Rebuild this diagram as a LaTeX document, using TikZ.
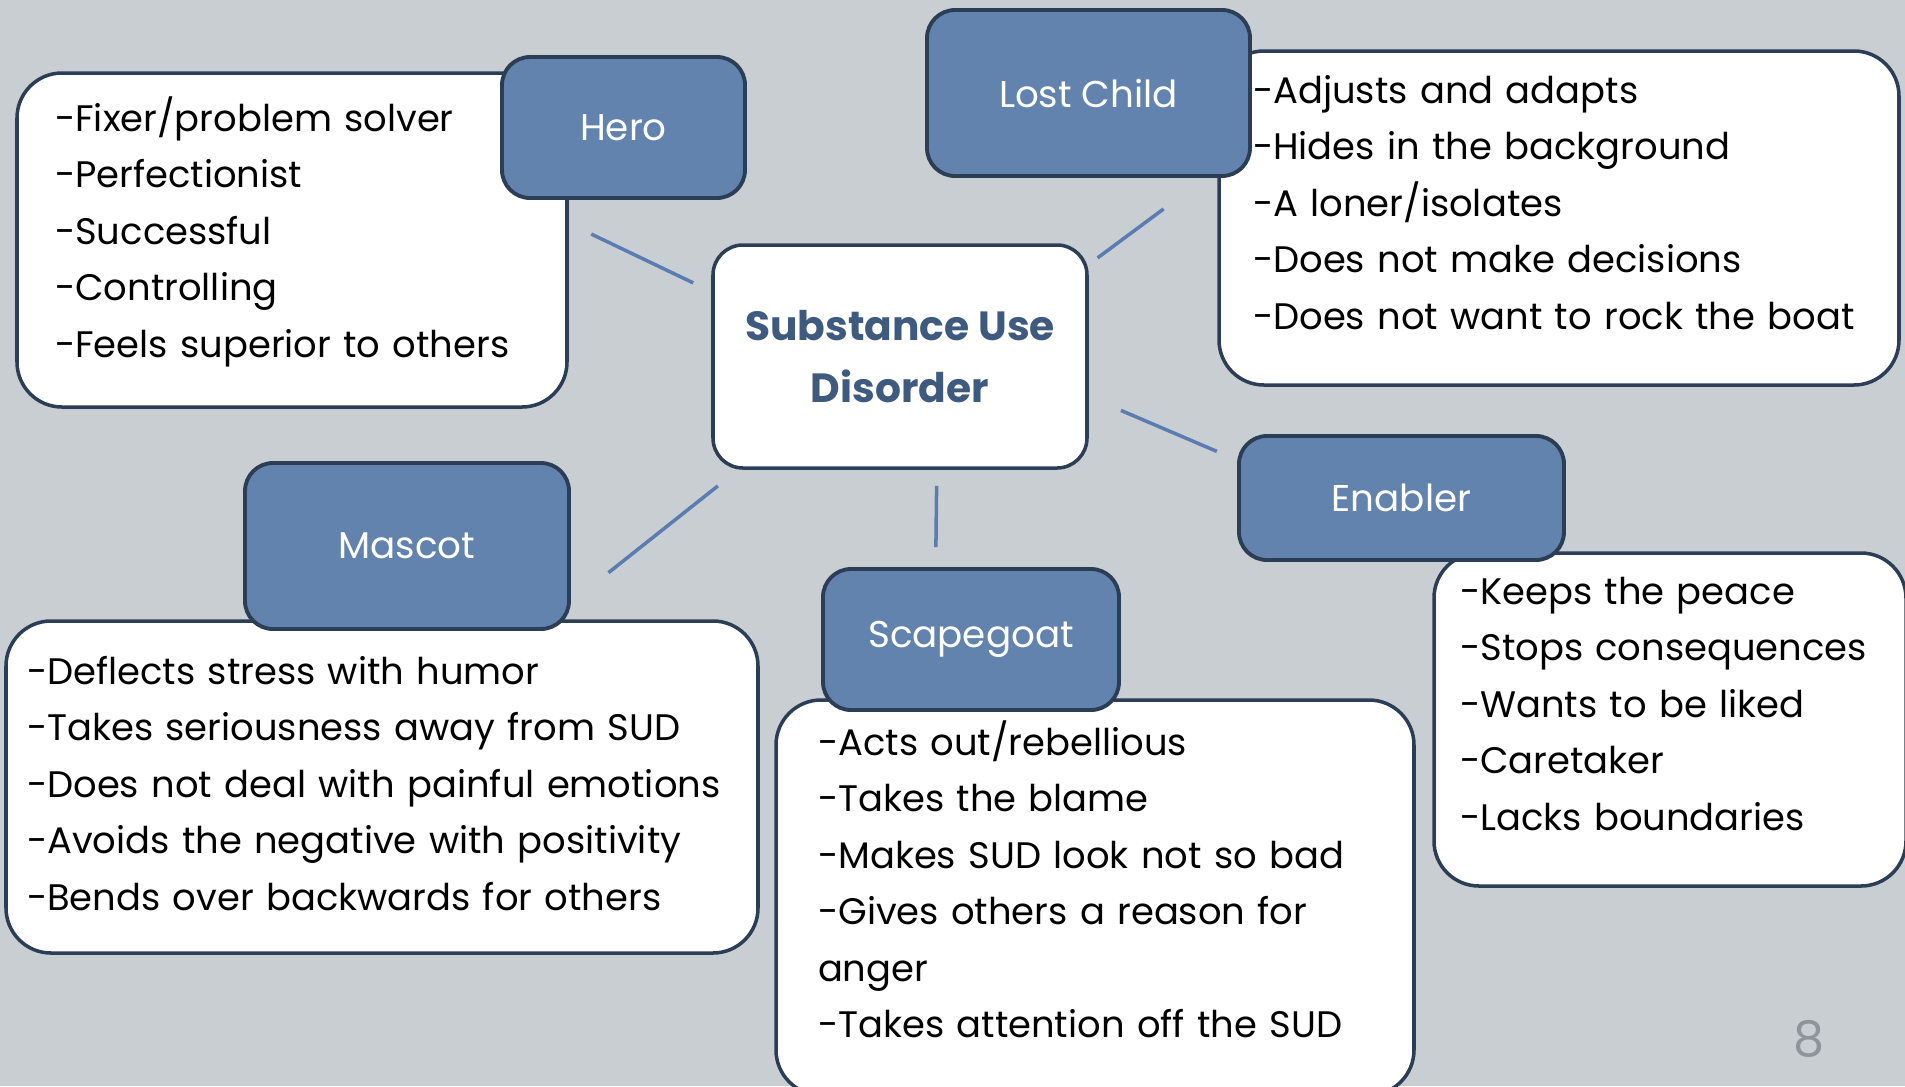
\documentclass[tikz,border=0pt]{standalone}
\usepackage{fontspec}
\setmainfont{Poppins}
\hyphenpenalty=10000
\definecolor{slide}{HTML}{C9CED3}
\definecolor{rolefill}{HTML}{6283AE}
\definecolor{edge}{HTML}{2C3D56}
\definecolor{linkblue}{HTML}{5B7CB0}
\definecolor{sudtext}{HTML}{3E5A7F}
\definecolor{pagenum}{HTML}{8E949A}

\begin{document}
\begin{tikzpicture}[x=0.1mm,y=-0.1mm,
  traits/.style={draw=edge, line width=1pt, fill=white, rounded corners=4.5mm,
    align=left, inner ysep=0pt, text height=0pt, font=\fontsize{10.5}{16.1}\selectfont},
  role/.style={draw=edge, line width=1.1pt, fill=rolefill, rounded corners=2.8mm,
    text=white, font=\fontsize{10.6}{14}\selectfont},
  link/.style={draw=linkblue, line width=1pt}]
% slide background
\useasboundingbox[fill=slide] (0,0) rectangle (1905,1086);

% draw boxes with the traits
\node[traits, inner xsep=3.8mm, text width=47.4mm, minimum height=33.4mm, text depth=21.8mm] (herotext) at (292,240) {
  -Fixer/problem solver\\
  -Perfectionist\\
  -Successful\\
  -Controlling\\
  -Feels superior to others};
\node[traits, inner xsep=3.4mm, text width=61.2mm, minimum height=33.4mm, text depth=23mm] (losttext) at (1559,218) {
  -Adjusts and adapts\\
  -Hides in the background\\
  -A loner/isolates\\
  -Does not make decisions\\
  -Does not want to rock the boat};
\node[traits, inner xsep=2.1mm, text width=71mm, minimum height=33.2mm, text depth=20.6mm] (mascottext) at (382,787) {
  -Deflects stress with humor\\
  -Takes seriousness away from SUD\\
  -Does not deal with painful emotions\\
  -Avoids the negative with positivity\\
  -Bends over backwards for others};
\node[traits, inner xsep=2.6mm, text width=42mm, minimum height=33.3mm, text depth=23.1mm] (enablertext) at (1670,719.5) {
  -Keeps the peace\\
  -Stops consequences\\
  -Wants to be liked\\
  -Caretaker\\
  -Lacks boundaries};
\node[traits, inner xsep=4.2mm, text width=55.4mm, minimum height=39.5mm, text depth=28.5mm] (scapetext) at (1095,897.5) {
  -Acts out/rebellious\\
  -Takes the blame\\
  -Makes SUD look not so bad\\
  -Gives others a reason for\\
  anger\\
  -Takes attention off the SUD};

% draw the roles on top
\node[role, minimum width=24.3mm, minimum height=14.1mm] (hero) at (623.5,127.5) {Hero};
\node[role, minimum width=32.3mm, minimum height=16.6mm] (lost) at (1088.5,93) {Lost Child};
\node[role, minimum width=32.5mm, minimum height=12.4mm] (enabler) at (1401.5,498) {Enabler};
\node[role, minimum width=32.4mm, minimum height=16.6mm] (mascot) at (407,546) {Mascot};
\node[role, minimum width=29.6mm, minimum height=14.1mm] (scape) at (971,639.5) {Scapegoat};

% center of the map
\node[draw=edge, line width=1pt, fill=white, rounded corners=3mm, align=center,
  minimum width=37.4mm, minimum height=22.3mm, text=sudtext,
  font=\bfseries\fontsize{11.6}{17.6}\selectfont] (sud) at (900,356.5) {Substance Use\\Disorder};

% draw links to the roles
\foreach \a/\b/\s/\t in {161/hero.-145/2mm/7.9mm, 26/lost.-36/1.1mm/5.2mm,
  -12/enabler.167/3.5mm/2.2mm, -145/mascot.-19/2.6mm/4.8mm, -72/scape.116/1.6mm/2mm}
  \draw[link, shorten <=\s, shorten >=\t] (sud.\a) -- (\b);

% slide number
\node[text=pagenum, font=\fontsize{14}{16}\selectfont] (page) at (1809,1039) {8};
\end{tikzpicture}
\end{document}
